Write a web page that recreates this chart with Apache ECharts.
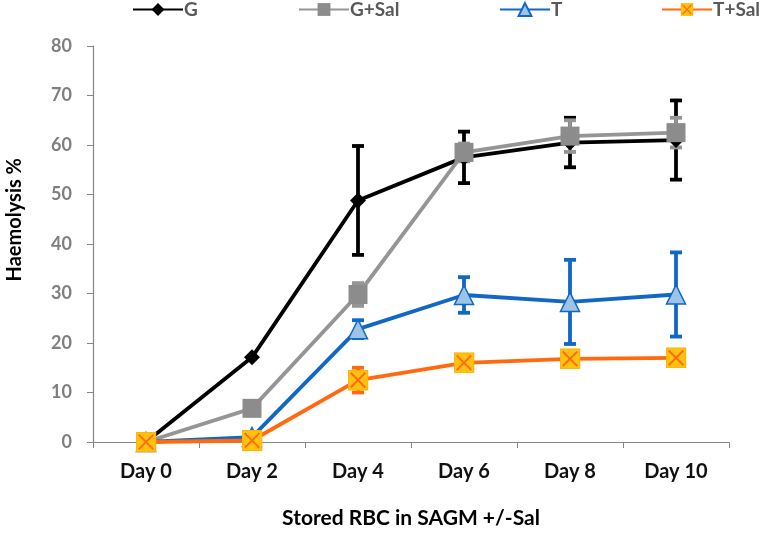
<!DOCTYPE html>
<html><head><meta charset="utf-8">
<script src="https://cdn.jsdelivr.net/npm/echarts@6/dist/echarts.min.js"></script>
<style>html,body{margin:0;padding:0;background:#fff}#c{width:766px;height:534px}</style>
</head><body><div id="c"></div>
<script>
const categories = ['Day 0','Day 2','Day 4','Day 6','Day 8','Day 10'];
const seriesNames = ['G','G+Sal','T','T+Sal'];
const gValues    = [0, 17.1, 48.8, 57.5, 60.5, 61.0];
const gErr       = [0, 0, 11.0, 5.2, 5.0, 8.0];
const gsValues   = [0, 6.8, 29.8, 58.5, 61.8, 62.5];
const gsErr      = [0, 0, 2.3, 1.8, 3.2, 3.0];
const tValues    = [0, 1.0, 22.8, 29.7, 28.3, 29.8];
const tErr       = [0, 0, 1.8, 3.6, 8.5, 8.5];
const tsValues   = [0, 0.3, 12.5, 16.0, 16.8, 17.0];
const tsErr      = [0, 0, 2.5, 0, 0, 0];
const yTicks = {min: 0, max: 80, interval: 10};
const xTitle = 'Stored RBC in SAGM +/-Sal';
const yTitle = 'Haemolysis %';

const FONT = 'Lato';
const colors = ['#000000', '#959595', '#1067C6', '#FF6A10'];

const xSvg = 'data:image/svg+xml;utf8,' + encodeURIComponent(
 '<svg xmlns="http://www.w3.org/2000/svg" width="20" height="20" viewBox="0 0 20 20">' +
 '<rect x="0.5" y="0.5" width="19" height="19" fill="#FFC20E" stroke="#FFB000" stroke-width="1"/>' +
 '<path d="M3 3 L17 17 M17 3 L3 17" stroke="#FF6A10" stroke-width="1.8"/></svg>');

function errData(vals, errs) {
  const out = [];
  vals.forEach((v, i) => { if (errs[i] > 0) out.push([i, v - errs[i], v + errs[i]]); });
  return out;
}
function errSeries(vals, errs, color) {
  return {
    type: 'custom', z: 1, silent: true,
    data: errData(vals, errs),
    renderItem: function (params, api) {
      const lo = api.coord([api.value(0), api.value(1)]);
      const hi = api.coord([api.value(0), api.value(2)]);
      const w = 6;
      const st = {stroke: color, lineWidth: 3.8};
      return {type: 'group', children: [
        {type: 'line', shape: {x1: hi[0], y1: hi[1], x2: lo[0], y2: lo[1]}, style: st},
        {type: 'line', shape: {x1: hi[0]-w, y1: hi[1], x2: hi[0]+w, y2: hi[1]}, style: st},
        {type: 'line', shape: {x1: lo[0]-w, y1: lo[1], x2: lo[0]+w, y2: lo[1]}, style: st}
      ]};
    }
  };
}
function lineSeries(name, vals, color, symbol, size, fill, border) {
  return {
    name: name, type: 'line', z: 3, data: vals, symbol: symbol, symbolSize: size,
    lineStyle: {color: color, width: 3.8},
    itemStyle: {color: fill, borderColor: border, borderWidth: border ? 1.5 : 0},
    emphasis: {disabled: true}, animation: false
  };
}

const legendBase = {
  top: 0, padding: 0, itemWidth: 50, itemHeight: 16, itemGap: 0,
  textStyle: {fontFamily: FONT, fontWeight: 'bold', fontSize: 19, color: '#595959', padding: [0,0,0,-4]}
};

const option = {
  animation: false,
  legend: [
    Object.assign({}, legendBase, {left: 132, data: [seriesNames[0]]}),
    Object.assign({}, legendBase, {left: 298, data: [seriesNames[1]]}),
    Object.assign({}, legendBase, {left: 499, data: [seriesNames[2]]}),
    Object.assign({}, legendBase, {left: 661, data: [seriesNames[3]]})
  ],
  graphic: [{
    type: 'text', left: 5, top: 158, rotation: Math.PI / 2,
    style: {text: yTitle, fontFamily: FONT, fontWeight: 'bold', fontSize: 20, fill: '#000'}
  }],
  grid: {left: 93, right: 37, top: 46, bottom: 90, containLabel: false},
  xAxis: {
    type: 'category', data: categories, boundaryGap: true,
    name: xTitle, nameLocation: 'middle', nameGap: 66,
    nameTextStyle: {fontFamily: FONT, fontWeight: 'bold', fontSize: 21, color: '#000'},
    axisLine: {lineStyle: {color: '#868686', width: 1.2}},
    axisTick: {show: true, length: 6, lineStyle: {color: '#868686'}},
    axisLabel: {fontFamily: FONT, fontWeight: 'bold', fontSize: 20, color: '#111', margin: 20}
  },
  yAxis: {
    type: 'value', min: yTicks.min, max: yTicks.max, interval: yTicks.interval,
    axisLine: {show: true, lineStyle: {color: '#868686', width: 1.2}},
    axisTick: {show: true, length: 6, lineStyle: {color: '#868686'}},
    splitLine: {show: false},
    axisLabel: {fontFamily: FONT, fontWeight: 'bold', fontSize: 18, color: '#7F7F7F', margin: 21}
  },
  series: [
    errSeries(gValues, gErr, colors[0]),
    errSeries(gsValues, gsErr, colors[1]),
    errSeries(tValues, tErr, colors[2]),
    errSeries(tsValues, tsErr, colors[3]),
    lineSeries(seriesNames[0], gValues, colors[0], 'diamond', 16, '#000000', null),
    lineSeries(seriesNames[1], gsValues, colors[1], 'rect', 19, '#8C8C8C', null),
    lineSeries(seriesNames[2], tValues, colors[2], 'triangle', 19, '#9DC3E6', '#1067C6'),
    lineSeries(seriesNames[3], tsValues, colors[3], 'image://' + xSvg, 21, '#FFC20E', null)
  ]
};
echarts.init(document.getElementById('c'), null, {renderer: 'canvas'}).setOption(option);
</script></body></html>
